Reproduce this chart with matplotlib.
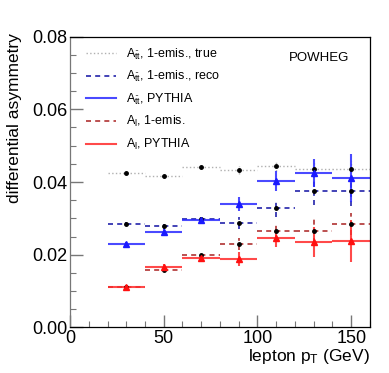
import numpy as np
import matplotlib.pyplot as plt

plt.rcParams['font.family'] = ['Liberation Sans', 'DejaVu Sans']
plt.rcParams['mathtext.fontset'] = 'custom'
plt.rcParams['mathtext.rm'] = 'Liberation Sans'
plt.rcParams['mathtext.it'] = 'Liberation Sans'

# bins in lepton pT (GeV)
pt = np.array([30, 50, 70, 90, 110, 130, 150])
half_bin = 10

# A_tt, 1-emission, true
att_true = [0.0426, 0.0416, 0.0442, 0.0432, 0.0445, 0.0435, 0.0437]
att_true_err = [0.0003, 0.0004, 0.0006, 0.0011, 0.0015, 0.0017, 0.0020]
# A_tt, 1-emission, reco
att_reco = [0.0285, 0.0280, 0.0298, 0.0288, 0.0328, 0.0375, 0.0375]
att_reco_err = [0.0006, 0.0008, 0.0010, 0.0016, 0.0025, 0.0038, 0.0040]
# A_tt, PYTHIA
att_py = [0.0230, 0.0263, 0.0295, 0.0339, 0.0402, 0.0424, 0.0411]
att_py_err = [0.0005, 0.0009, 0.0008, 0.0020, 0.0028, 0.0038, 0.0065]
# A_l, 1-emission
al_1em = [0.0112, 0.0159, 0.0199, 0.0229, 0.0265, 0.0265, 0.0284]
al_1em_err = [0.0003, 0.0005, 0.0010, 0.0016, 0.0025, 0.0034, 0.0030]
# A_l, PYTHIA
al_py = [0.0112, 0.0166, 0.0190, 0.0188, 0.0245, 0.0235, 0.0238]
al_py_err = [0.0005, 0.0009, 0.0010, 0.0020, 0.0023, 0.0041, 0.0058]

fig = plt.figure(figsize=(3.89, 3.73), dpi=100)
ax = fig.add_axes([0.18, 0.122, 0.771, 0.780])


def draw(y, yerr, color, ls, lw, label, marker, mcolor, ms, alpha=1.0):
    eb = ax.errorbar(pt, y, xerr=half_bin, yerr=yerr, fmt='none', ecolor=color,
                     elinewidth=lw, alpha=alpha, capsize=0)
    for c in eb[2]:
        c.set_linestyle(ls)
    ax.plot(pt, y, linestyle='none', marker=marker, color=mcolor, ms=ms, zorder=5)
    ax.plot([], [], color=color, ls=ls, lw=lw, alpha=alpha, label=label)


draw(att_true, att_true_err, '#b0b0b0', ':', 1.0,
     r'$A_{\bar{t}t}$, 1-emis., true', 'o', 'black', 2.5)
draw(att_reco, att_reco_err, '#2222aa', (0, (3, 2.5)), 1.2,
     r'$A_{\bar{t}t}$, 1-emis., reco', 'o', 'black', 2.5)
draw(att_py, att_py_err, '#2a2aff', '-', 1.5,
     r'$A_{\bar{t}t}$, PYTHIA', '^', '#1a1aff', 5, alpha=0.85)
draw(al_1em, al_1em_err, '#a81c1c', (0, (3, 2.5)), 1.2,
     r'$A_{l}$, 1-emis.', 'o', 'black', 2.5, alpha=0.9)
draw(al_py, al_py_err, '#ff2a2a', '-', 1.5,
     r'$A_{l}$, PYTHIA', '^', '#ff1010', 5, alpha=0.85)

ax.set_xlim(0, 160)
ax.set_ylim(0, 0.08)
ax.set_xticks([0, 50, 100, 150])
ax.set_xticks(np.arange(0, 161, 10), minor=True)
ax.set_yticks([0, 0.02, 0.04, 0.06, 0.08])
ax.set_yticks(np.arange(0, 0.0801, 0.005), minor=True)
ax.set_yticklabels(['0.00', '0.02', '0.04', '0.06', '0.08'])
ax.tick_params(which='both', direction='in', top=False, right=False,
               labelsize=13, color='#777777')
ax.tick_params(which='major', length=9, width=1.0, pad=2)
ax.tick_params(which='minor', length=4.5, width=0.8)
for s in ax.spines.values():
    s.set_linewidth(0.9)
ax.spines['left'].set_color('#777777')

ax.set_ylabel('differential asymmetry', fontsize=12.5)
ax.yaxis.set_label_coords(-0.16, 0.72)
ax.set_xlabel(r'lepton p$_{\mathregular{T}}$ (GeV)', fontsize=12.5, loc='right', labelpad=0)

ax.text(0.93, 0.925, 'POWHEG', transform=ax.transAxes, ha='right', va='center', fontsize=9.5)

ax.legend(loc='upper left', bbox_to_anchor=(0.02, 1.0), frameon=False, fontsize=9,
          handlelength=2.4, labelspacing=0.6, handletextpad=0.8, borderaxespad=0.4)

fig.savefig('out.png', dpi=100)
